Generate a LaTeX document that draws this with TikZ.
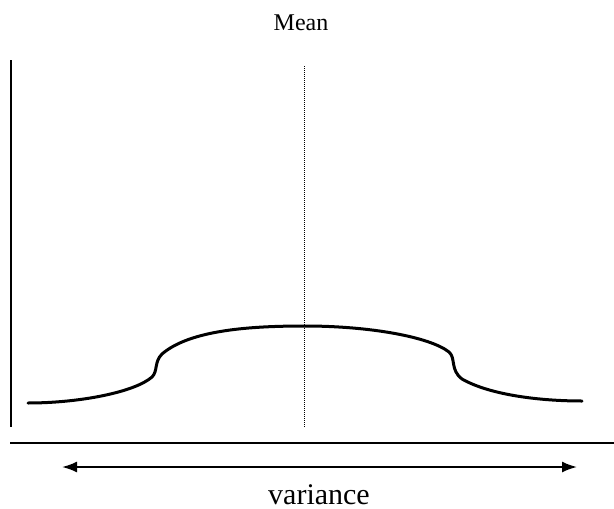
\documentclass[tikz,border=0pt]{standalone}
\usepackage{fontspec}
\setmainfont{Liberation Serif}
\usetikzlibrary{arrows.meta}
\begin{document}
\begin{tikzpicture}[x=1pt,y=-1pt,
  axisline/.style={line width=2pt,black},
  curveline/.style={line width=3pt,black,line cap=round},
  meanline/.style={line width=0.9pt,black,dash pattern=on 1.2pt off 0.8pt},
  vararrow/.style={line width=2pt,{Latex[length=15pt,width=11pt]}-{Latex[length=15pt,width=11pt]}},
  lbl/.style={inner sep=0pt,anchor=base,text depth=0pt}]
\useasboundingbox (0,0) rectangle (614,509);
% labels
\node[lbl,font=\fontsize{24}{28}\selectfont] (mean) at (301,30) {Mean};
\node[lbl,font=\fontsize{30}{34}\selectfont] (var) at (319,504) {variance};
% axes
\coordinate (ytop) at (11,60);
\coordinate (ybot) at (11,427);
\coordinate (xl) at (10,443);
\coordinate (xr) at (614,443);
\draw[axisline] (ytop) -- (ybot);
\draw[line width=2.5pt] (xl) -- (xr);
% mean line
\coordinate (mtop) at (304,66);
\coordinate (mbot) at (304,427);
\draw[meanline] (mtop) -- (mbot);
% curve
\coordinate (c0) at (28,403);
\coordinate (c1) at (152,377);
\coordinate (c2) at (162,354);
\coordinate (c3) at (305,326);
\coordinate (c4) at (449,352);
\coordinate (c5) at (462,379);
\coordinate (c6) at (582,401);
\draw[curveline] (c0) .. controls (80,403) and (135,392) .. (c1)
  .. controls (158,371) and (154,362) .. (c2)
  .. controls (190,330) and (250,326) .. (c3)
  .. controls (370,326) and (430,337) .. (c4)
  .. controls (456,358) and (450,370) .. (c5)
  .. controls (490,395) and (540,401) .. (c6);
% variance arrow
\coordinate (al) at (62,467);
\coordinate (ar) at (577,467);
\draw[vararrow] (al) -- (ar);
\end{tikzpicture}
\end{document}
